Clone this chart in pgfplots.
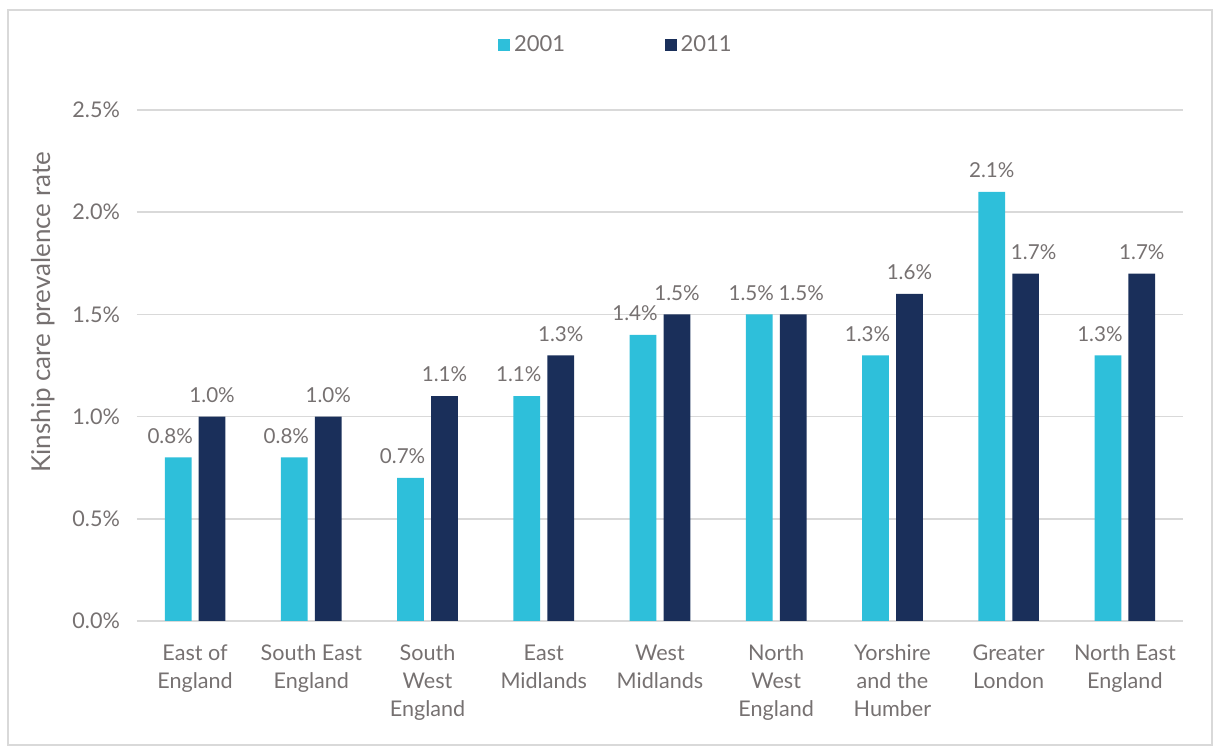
\documentclass[border=0pt]{standalone}
\usepackage{fontspec}
\setmainfont{Lato}
\usepackage{pgfplots}
\pgfplotsset{compat=1.18}
\definecolor{c2001}{HTML}{2EBFDA}
\definecolor{c2011}{HTML}{1A2F5A}
\definecolor{txtgray}{HTML}{767171}
\definecolor{gridgray}{HTML}{D9D9D9}

\begin{document}
\begin{tikzpicture}
\useasboundingbox (-68.5pt,-63pt) rectangle (538.5pt,310.5pt);
\draw[gridgray, line width=0.8pt] (-64.5pt,-62pt) rectangle (537.5pt,305.5pt);
\begin{axis}[
    at={(0pt,0pt)}, anchor=south west,
    scale only axis,
    width=523pt, height=255.5pt,
    ybar, bar width=0.23,
    xmin=-0.5, xmax=8.5,
    ymin=0, ymax=2.5,
    xtick={0,...,8},
    xticklabels={East of\\England, South East\\England, South\\West\\England, East\\Midlands, West\\Midlands, North\\West\\England, Yorshire\\and the\\Humber, Greater\\London, North East\\England},
    ytick={0,0.5,...,2.5},
    yticklabel={\pgfmathprintnumber[fixed,fixed zerofill,precision=1]{\tick}\%},
    /pgf/number format/assume math mode=true,
    ymajorgrids, grid style={gridgray, line width=0.8pt},
    axis line style={draw=none},
    axis x line*=bottom,
    x axis line style={gridgray, line width=0.8pt},
    tick style={draw=none},
    tick label style={font=\fontsize{10.8}{14}\selectfont, text=txtgray},
    xticklabel style={align=center, yshift=-4pt, anchor=north},
    yticklabel style={xshift=-5pt},
    ylabel={Kinship care prevalence rate},
    ylabel style={font=\fontsize{13}{16}\selectfont, text=txtgray, at={(axis description cs:-0.09,0.604)}, anchor=center},
    legend style={at={(0.459,1.127)}, anchor=center, draw=none, legend columns=2,
        font=\fontsize{11}{13}\selectfont, text=txtgray,
        /tikz/every even column/.append style={column sep=48pt}},
    legend image code/.code={\fill[#1] (0pt,-2.8pt) rectangle (5.8pt,2.8pt);},
    nodes near coords={\pgfmathprintnumber[fixed,fixed zerofill,precision=1]{\pgfplotspointmeta}\%},
    every node near coord/.append style={font=\fontsize{10.3}{12}\selectfont, text=txtgray, yshift=3.5pt},
    point meta=y,
    visualization depends on={x \as \xval},
]
% Excel nudges most 2001 labels left and a few 2011 labels right
\addplot[fill=c2001, draw=none, bar shift=-0.146,
    every node near coord/.append style={xshift={((\xval==7)*4-4)*1pt}}] coordinates {
(0,0.8) (1,0.8) (2,0.7) (3,1.1) (4,1.4) (5,1.5) (6,1.3) (7,2.1) (8,1.3)};
\addlegendentry{2001}
\addplot[fill=c2011, draw=none, bar shift=0.146,
    every node near coord/.append style={xshift={((\xval==5)+(\xval==7))*4*1pt}}] coordinates {
(0,1.0) (1,1.0) (2,1.1) (3,1.3) (4,1.5) (5,1.5) (6,1.6) (7,1.7) (8,1.7)};
\addlegendentry{2011}
\end{axis}
\end{tikzpicture}
\end{document}
